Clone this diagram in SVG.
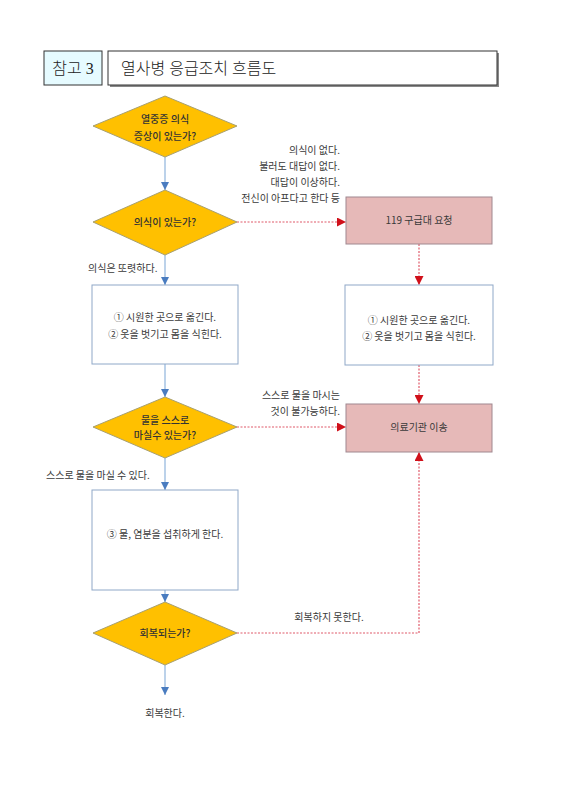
<svg xmlns="http://www.w3.org/2000/svg" width="567" height="800" viewBox="0 0 567 800">
<defs>
<style>
.t{font-family:"Noto Sans CJK KR","Noto Sans",sans-serif;font-size:10px;fill:#3a3a3a}
.dt{font-weight:500;fill:#333}
.h{font-family:"Liberation Serif","Noto Sans CJK KR",serif;font-size:16px;font-weight:300;fill:#222}
.dia{fill:#ffc000;stroke:#a8a070;stroke-width:1}
.box{fill:#fff;stroke:#8fa8c8;stroke-width:1}
.red{fill:#e6b9b8;stroke:#a08890;stroke-width:1}
.bl{stroke:#8fb4dc;stroke-width:1.2;fill:none}
.rl{stroke:#e05a6a;stroke-width:1.2;stroke-dasharray:2 1.5;fill:none}
</style>
<marker id="ab" viewBox="0 0 10 10" refX="10" refY="5" markerWidth="8" markerHeight="9" orient="auto" markerUnits="userSpaceOnUse"><path d="M0,0L10,5L0,10z" fill="#4a7cc0"/></marker>
<marker id="ar" viewBox="0 0 10 10" refX="10" refY="5" markerWidth="9" markerHeight="9" orient="auto" markerUnits="userSpaceOnUse"><path d="M0,0L10,5L0,10z" fill="#d0101a"/></marker>
</defs>
<rect width="567" height="800" fill="#fff"/>
<g id="header">
<rect x="44" y="51" width="58" height="34" fill="#e6fbff" stroke="#333" stroke-width="1"/>
<text class="h" x="73" y="74" text-anchor="middle">참고 3</text>
<rect x="110" y="53" width="389" height="34" fill="#888"/>
<rect x="108" y="51" width="389" height="34" fill="#fff" stroke="#333" stroke-width="1"/>
<text class="h" x="121" y="74">열사병 응급조치 흐름도</text>
</g>
<g id="connectors">
<line class="bl" x1="165" y1="157" x2="165" y2="190" marker-end="url(#ab)"/>
<line class="bl" x1="165" y1="255" x2="165" y2="285" marker-end="url(#ab)"/>
<line class="bl" x1="165" y1="364" x2="165" y2="397" marker-end="url(#ab)"/>
<line class="bl" x1="165" y1="458" x2="165" y2="490" marker-end="url(#ab)"/>
<line class="bl" x1="165" y1="590" x2="165" y2="602" marker-end="url(#ab)"/>
<line class="bl" x1="165" y1="665" x2="165" y2="695" marker-end="url(#ab)"/>
<line class="rl" x1="237" y1="222" x2="346" y2="222" marker-end="url(#ar)"/>
<line class="rl" x1="419" y1="244" x2="419" y2="285" marker-end="url(#ar)"/>
<line class="rl" x1="419" y1="365" x2="419" y2="404" marker-end="url(#ar)"/>
<line class="rl" x1="237" y1="427" x2="346" y2="427" marker-end="url(#ar)"/>
<polyline class="rl" points="237,633 419,633 419,452" marker-end="url(#ar)"/>
<text class="t" x="340" y="154" text-anchor="end">의식이 없다.</text>
<text class="t" x="340" y="170" text-anchor="end">불러도 대답이 없다.</text>
<text class="t" x="340" y="186" text-anchor="end">대답이 이상하다.</text>
<text class="t" x="340" y="202" text-anchor="end">전신이 아프다고 한다 등</text>
<text class="t" x="88" y="272">의식은 또렷하다.</text>
<text class="t" x="340" y="399" text-anchor="end">스스로 물을 마시는</text>
<text class="t" x="340" y="415" text-anchor="end">것이 불가능하다.</text>
<text class="t" x="46" y="479">스스로 물을 마실 수 있다.</text>
<text class="t" x="329" y="621" text-anchor="middle">회복하지 못한다.</text>
<text class="t" x="165" y="717" text-anchor="middle">회복한다.</text>
</g>
<g id="d1">
<polygon class="dia" points="165,96 237,126 165,157 93,126"/>
<text class="t dt" x="165" y="123" text-anchor="middle">열중증 의식</text>
<text class="t dt" x="165" y="140" text-anchor="middle">증상이 있는가?</text>
</g>
<g id="d2">
<polygon class="dia" points="165,190 237,222 165,255 93,222"/>
<text class="t dt" x="165" y="226" text-anchor="middle">의식이 있는가?</text>
</g>
<g id="b1">
<rect class="box" x="92" y="285" width="146" height="79"/>
<text class="t" x="165" y="321" text-anchor="middle">① 시원한 곳으로 옮긴다.</text>
<text class="t" x="165" y="338" text-anchor="middle">② 옷을 벗기고 몸을 식힌다.</text>
</g>
<g id="d3">
<polygon class="dia" points="165,397 237,427 165,458 93,427"/>
<text class="t dt" x="165" y="424" text-anchor="middle">물을 스스로</text>
<text class="t dt" x="165" y="439" text-anchor="middle">마실수 있는가?</text>
</g>
<g id="b3">
<rect class="box" x="92" y="490" width="146" height="100"/>
<text class="t" x="165" y="538" text-anchor="middle">③ 물, 염분을 섭취하게 한다.</text>
</g>
<g id="d4">
<polygon class="dia" points="165,602 237,633 165,665 93,633"/>
<text class="t dt" x="165" y="637" text-anchor="middle">회복되는가?</text>
</g>
<g id="r1">
<rect class="red" x="346" y="197" width="146" height="47"/>
<text class="t" x="419" y="224" text-anchor="middle">119 구급대 요청</text>
</g>
<g id="b2">
<rect class="box" x="345" y="285" width="148" height="80"/>
<text class="t" x="419" y="324" text-anchor="middle">① 시원한 곳으로 옮긴다.</text>
<text class="t" x="419" y="340" text-anchor="middle">② 옷을 벗기고 몸을 식힌다.</text>
</g>
<g id="r2">
<rect class="red" x="346" y="404" width="146" height="48"/>
<text class="t" x="419" y="431" text-anchor="middle">의료기관 이송</text>
</g>
</svg>
